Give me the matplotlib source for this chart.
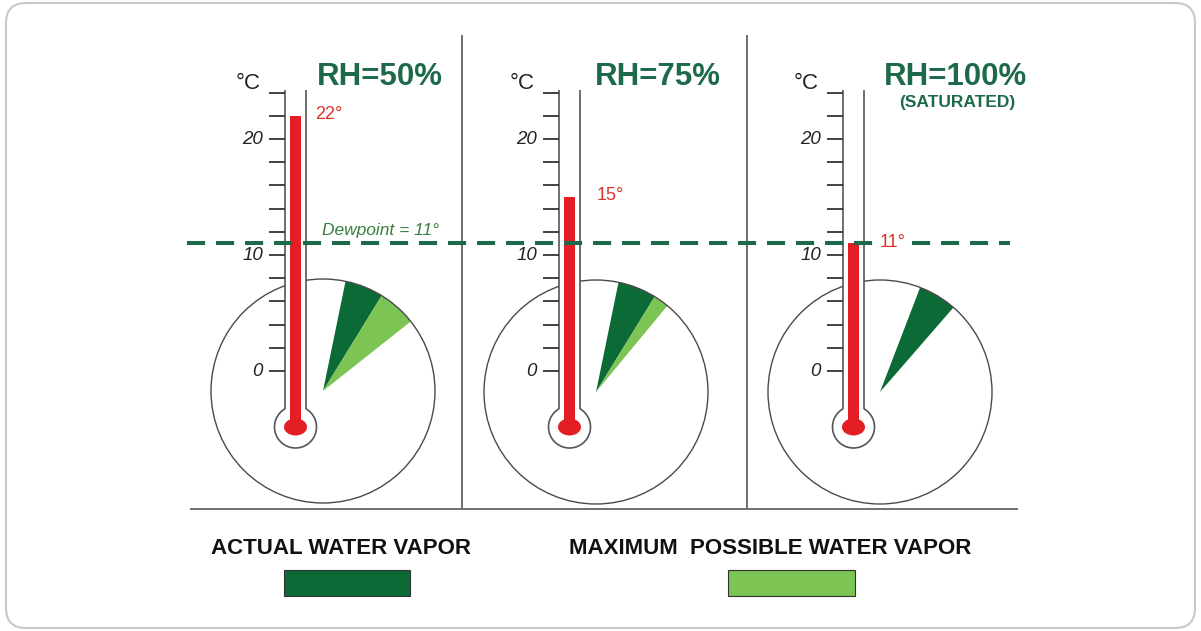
import matplotlib.pyplot as plt
import numpy as np
from matplotlib.patches import Circle, Ellipse, Wedge, Arc, Rectangle, FancyBboxPatch

plt.rcParams['font.family'] = ['Liberation Sans', 'DejaVu Sans']

# --- data ---
rh_labels = ["RH=50%", "RH=75%", "RH=100%"]
air_temp = [22, 15, 11]              # thermometer reading, deg C
dewpoint = 11
actual_vapor = [20, 20, 20]          # wedge size (degrees of the circle)
max_vapor = [40, 28, 20]
scale_ticks = np.arange(0, 25, 2)
scale_labels = [0, 10, 20]
legend_labels = ["ACTUAL WATER VAPOR", "MAXIMUM  POSSIBLE WATER VAPOR"]

# --- layout (pixels, origin bottom-left) ---
W, H = 1201, 631
ZERO_PX = 371        # pixel row (from top) of 0 deg C
PX_PER_DEG = 11.6
tube_left = [285, 559, 843]
tube_w = 21
circle_c = [(323, 240), (596, 239), (880, 239)]
circle_r = 112
wedge_start = [78.4, 78.4, 69]
bulb_y, bulb_r = 204, 21
title_x = [380, 658, 955]
label_off = [9, 17, 16]

dark = "#0c6a37"
light = "#7cc453"
red = "#e31e24"
label_red = "#d8362c"
green_txt = "#1d6a4a"


def up(y):
    return H - y


fig = plt.figure(figsize=(12.01, 6.31), dpi=100)
ax = fig.add_axes([0, 0, 1, 1])
ax.set_xlim(0, W)
ax.set_ylim(0, H)
ax.axis("off")

# temperature axis sharing x, y in deg C
axT = ax.twinx()
axT.set_ylim((ZERO_PX - H) / PX_PER_DEG, ZERO_PX / PX_PER_DEG)
axT.axis("off")

# frame
ax.add_patch(FancyBboxPatch((6, 3), 1189, 625, boxstyle="round,pad=0,rounding_size=20",
                            fc="white", ec="#c8c8c8", lw=1.5, zorder=0))

# dividers and base line
ax.vlines([462, 747], up(508), up(35), color="#555555", lw=1.2)
ax.hlines(up(509), 190, 1018, color="#555555", lw=1.2)

t_bulb = (ZERO_PX - up(bulb_y)) / PX_PER_DEG

for i in range(3):
    tl = tube_left[i]
    tr = tl + tube_w
    tc = tl + tube_w / 2

    # vapor circle with wedges
    s = wedge_start[i]
    ax.add_patch(Wedge(circle_c[i], circle_r, s - actual_vapor[i], s, fc=dark, ec="none", zorder=1))
    ax.add_patch(Wedge(circle_c[i], circle_r, s - max_vapor[i], s - actual_vapor[i],
                       fc=light, ec="none", zorder=1))
    ax.add_patch(Circle(circle_c[i], circle_r, fill=False, ec="#4a4a4a", lw=1, zorder=1.5))

    # thermometer body
    y_join = bulb_y + np.sqrt(bulb_r ** 2 - (tube_w / 2) ** 2)
    ax.add_patch(Rectangle((tl, y_join - 2), tube_w, up(90) - y_join + 2, fc="white", ec="none", zorder=2))
    ax.add_patch(Circle((tc, bulb_y), bulb_r, fc="white", ec="none", zorder=2))
    ax.vlines([tl, tr], y_join, up(90), color="#555555", lw=1.2, zorder=3)
    ax.add_patch(Arc((tc, bulb_y), 2 * bulb_r, 2 * bulb_r, theta1=120, theta2=420,
                     color="#555555", lw=1.2, zorder=3))
    ax.add_patch(Ellipse((tc, bulb_y), 23, 17, fc=red, ec="none", zorder=4))

    # scale
    axT.hlines(scale_ticks, tl - 16, tl, color="#333333", lw=1.3)
    for v in scale_labels:
        axT.text(tl - 22, v, str(v), ha="right", va="center", fontsize=13.5,
                 style="italic", color="#222222")
    axT.text(tl - 24, 24.8, "°C", ha="right", va="center", fontsize=16, color="#222222")

    # mercury column
    axT.bar(tc, air_temp[i] - t_bulb, bottom=t_bulb, width=11, color=red, zorder=4)
    bbox = dict(fc="white", ec="none", pad=1) if air_temp[i] == dewpoint else None
    axT.text(tr + label_off[i], air_temp[i] + 0.1, f"{air_temp[i]}°", ha="left", va="center",
             fontsize=13, color=label_red, bbox=bbox, zorder=6)

    ax.text(title_x[i], up(77), rh_labels[i], ha="center", va="center", fontsize=22.5,
            fontweight="bold", color=green_txt)

ax.text(957, up(102), "(SATURATED)", ha="center", va="center", fontsize=12.5,
        fontweight="bold", color=green_txt)

# dewpoint line
axT.plot([187, 1010], [dewpoint, dewpoint], color="#1d6a4a", lw=2.9, dashes=[4.5, 2.7], zorder=5)
axT.text(322, dewpoint + 1.15, "Dewpoint = 11°", ha="left", va="center", fontsize=12.5,
         style="italic", color="#3a7d3e")

# legend
ax.text(341, up(548), legend_labels[0], ha="center", va="center", fontsize=16,
        fontweight="bold", color="#111111")
ax.text(770, up(548), legend_labels[1], ha="center", va="center", fontsize=16,
        fontweight="bold", color="#111111")
ax.add_patch(Rectangle((284, up(596)), 126, 26, fc=dark, ec="#333333", lw=0.8))
ax.add_patch(Rectangle((728, up(596)), 127, 26, fc=light, ec="#333333", lw=0.8))

fig.savefig("out.png", dpi=100)
